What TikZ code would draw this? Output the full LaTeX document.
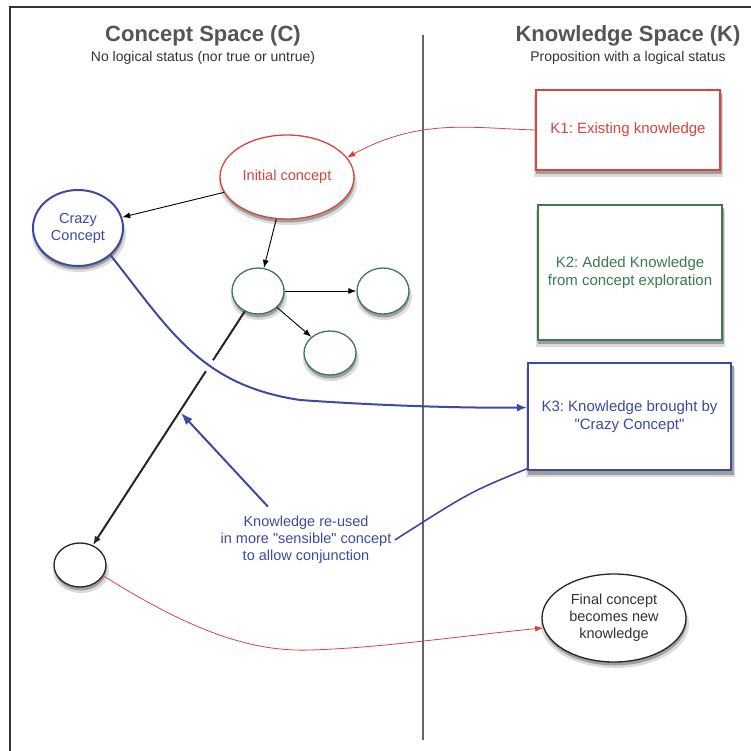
\documentclass[tikz,border=0pt]{standalone}
\usepackage{fontspec}
\setmainfont{Liberation Sans}
\usetikzlibrary{arrows.meta,shapes.geometric,calc,intersections}
\definecolor{cred}{HTML}{D9443C}
\definecolor{cgreen}{HTML}{3E7A4E}
\definecolor{cblue}{HTML}{3C4BA0}
\definecolor{ctitle}{HTML}{555555}
\definecolor{ctext}{HTML}{333333}
\frenchspacing
\pgfdeclarelayer{bg}
\pgfsetlayers{bg,main}
\tikzset{
  txt/.style={font=\fontsize{14.5}{17}\selectfont, align=center},
  ktxt/.style={font=\fontsize{15}{18}\selectfont, align=center},
  ttl/.style={font=\fontsize{22}{26}\selectfont\bfseries, text=ctitle},
  sub/.style={font=\fontsize{14}{17}\selectfont, text=ctext},
  ell/.style={ellipse, fill=white, inner sep=0pt, line width=1.3pt, txt},
  kbox/.style={rectangle, fill=white, inner sep=0pt, line width=1.2pt, ktxt},
  arr/.style={-{Latex[length=8pt,width=6pt]}, line width=0.9pt},
  shA/.style={fill=black!14},
  shB/.style={fill=black!38},
}
\begin{document}
\begin{tikzpicture}[x=1pt,y=-1pt]
\useasboundingbox (0,0) rectangle (750,751);
% frame
\draw[line width=2pt, black!80] (10,751) -- (10,7) -- (751,7);
% divider
\draw[line width=1.6pt, black!60] (423,35) -- (423,740);
% titles
\node[ttl] (tc) at (203,36) {Concept Space (C)};
\node[sub] (sc) at (203,58) {No logical status (nor true or untrue)};
\node[ttl] (tk) at (628,36) {Knowledge Space (K)};
\node[sub] (sk) at (628,58) {Proposition with a logical status};
% knowledge boxes
\node[kbox, draw=cred, text=cred, minimum width=184pt, minimum height=80pt] (K1) at (628,130) {K1: Existing knowledge};
\node[kbox, draw=cgreen, text=cgreen, minimum width=184pt, minimum height=135pt] (K2) at (630,272.5) {K2: Added Knowledge\\from concept exploration};
\node[kbox, draw=cblue, text=cblue, line width=2pt, minimum width=203pt, minimum height=107pt] (K3) at (629.5,416.5) {K3: Knowledge brought by\\\textquotedbl Crazy Concept\textquotedbl};
% concepts
\node[ell, draw=cred, text=cred, minimum width=134pt, minimum height=84pt] (init) at (287,177) {Initial concept};
\node[ell, draw=cblue, text=cblue, line width=2pt, minimum width=90pt, minimum height=76pt] (crazy) at (78,228) {Crazy\\Concept};
\node[ell, draw=cgreen, minimum width=52pt, minimum height=46pt] (g1) at (258,291) {};
\node[ell, draw=cgreen, minimum width=52pt, minimum height=46pt] (g2) at (383,291) {};
\node[ell, draw=cgreen, minimum width=52pt, minimum height=44pt] (g3) at (330,353) {};
\node[ell, draw=black!85, minimum width=52pt, minimum height=44pt] (bot) at (80,565) {};
\node[ell, draw=black!85, text=ctext, minimum width=144pt, minimum height=88pt] (final) at (614,618) {Final concept\\becomes new\\knowledge};
% shadows
\begin{pgfonlayer}{bg}
\foreach \n in {K1,K2,K3}{
  \fill[shA] ($(\n.north west)+(-1,6)$) rectangle ($(\n.south east)+(2.5,6)$);
  \fill[shB] ($(\n.north west)+(0.5,3.5)$) rectangle ($(\n.south east)+(1.5,3.5)$);
}
\foreach \n/\rx/\ry in {init/67/42,crazy/45/38,g1/26/23,g2/26/23,g3/26/22,bot/26/22,final/72/44}{
  \fill[shA] ($(\n.center)+(1,6)$) ellipse [x radius=\rx pt+2pt, y radius=\ry pt];
  \fill[shB] ($(\n.center)+(0.7,3.5)$) ellipse [x radius=\rx pt, y radius=\ry pt];
}
\end{pgfonlayer}
% reuse text
\node[txt, text=cblue] (reuse) at (306,540) {Knowledge re-used\\in more \textquotedbl sensible\textquotedbl\ concept\\to allow conjunction};
% black arrows
\draw[arr] (init) -- (crazy);
\draw[arr] (init) -- (g1);
\draw[arr] (g1) -- (g2);
\draw[arr] (g1) -- (g3);
% blue curve path (for crossing)
\path[name path=bluecurve] (crazy.-40) .. controls (170,330) and (200,385) .. (300,400) .. controls (400,407) and (480,408) .. (K3.175);
\path[name path=longline] (g1) -- (bot);
\path[name intersections={of=bluecurve and longline, by=cross}];
\draw[-{Latex[length=9pt,width=7pt]}, line width=2pt, black!85] (g1) -- (bot);
\fill[white] (cross) circle (6.5pt);
\draw[-{Latex[length=10pt,width=8pt]}, line width=2pt, cblue] (crazy.-40) .. controls (170,330) and (200,385) .. (300,400) .. controls (400,407) and (480,408) .. (K3.175);
% K3 to reuse text
\draw[line width=1.6pt, cblue] (K3.207) .. controls (470,492) .. (reuse.east);
\coordinate (tip) at (181,413);
\draw[-{Latex[length=12pt,width=9pt]}, line width=2pt, cblue] ($(reuse.north)+(-38,-6)$) -- (tip);
% red curves
\draw[arr, cred, line width=0.8pt] (K1.west) .. controls (470,128) and (420,118) .. (init.18);
\draw[arr, cred, line width=0.8pt] (bot.-25) .. controls (190,630) and (250,652) .. (310,650) .. controls (380,648) and (460,636) .. (final.188);
\end{tikzpicture}
\end{document}
